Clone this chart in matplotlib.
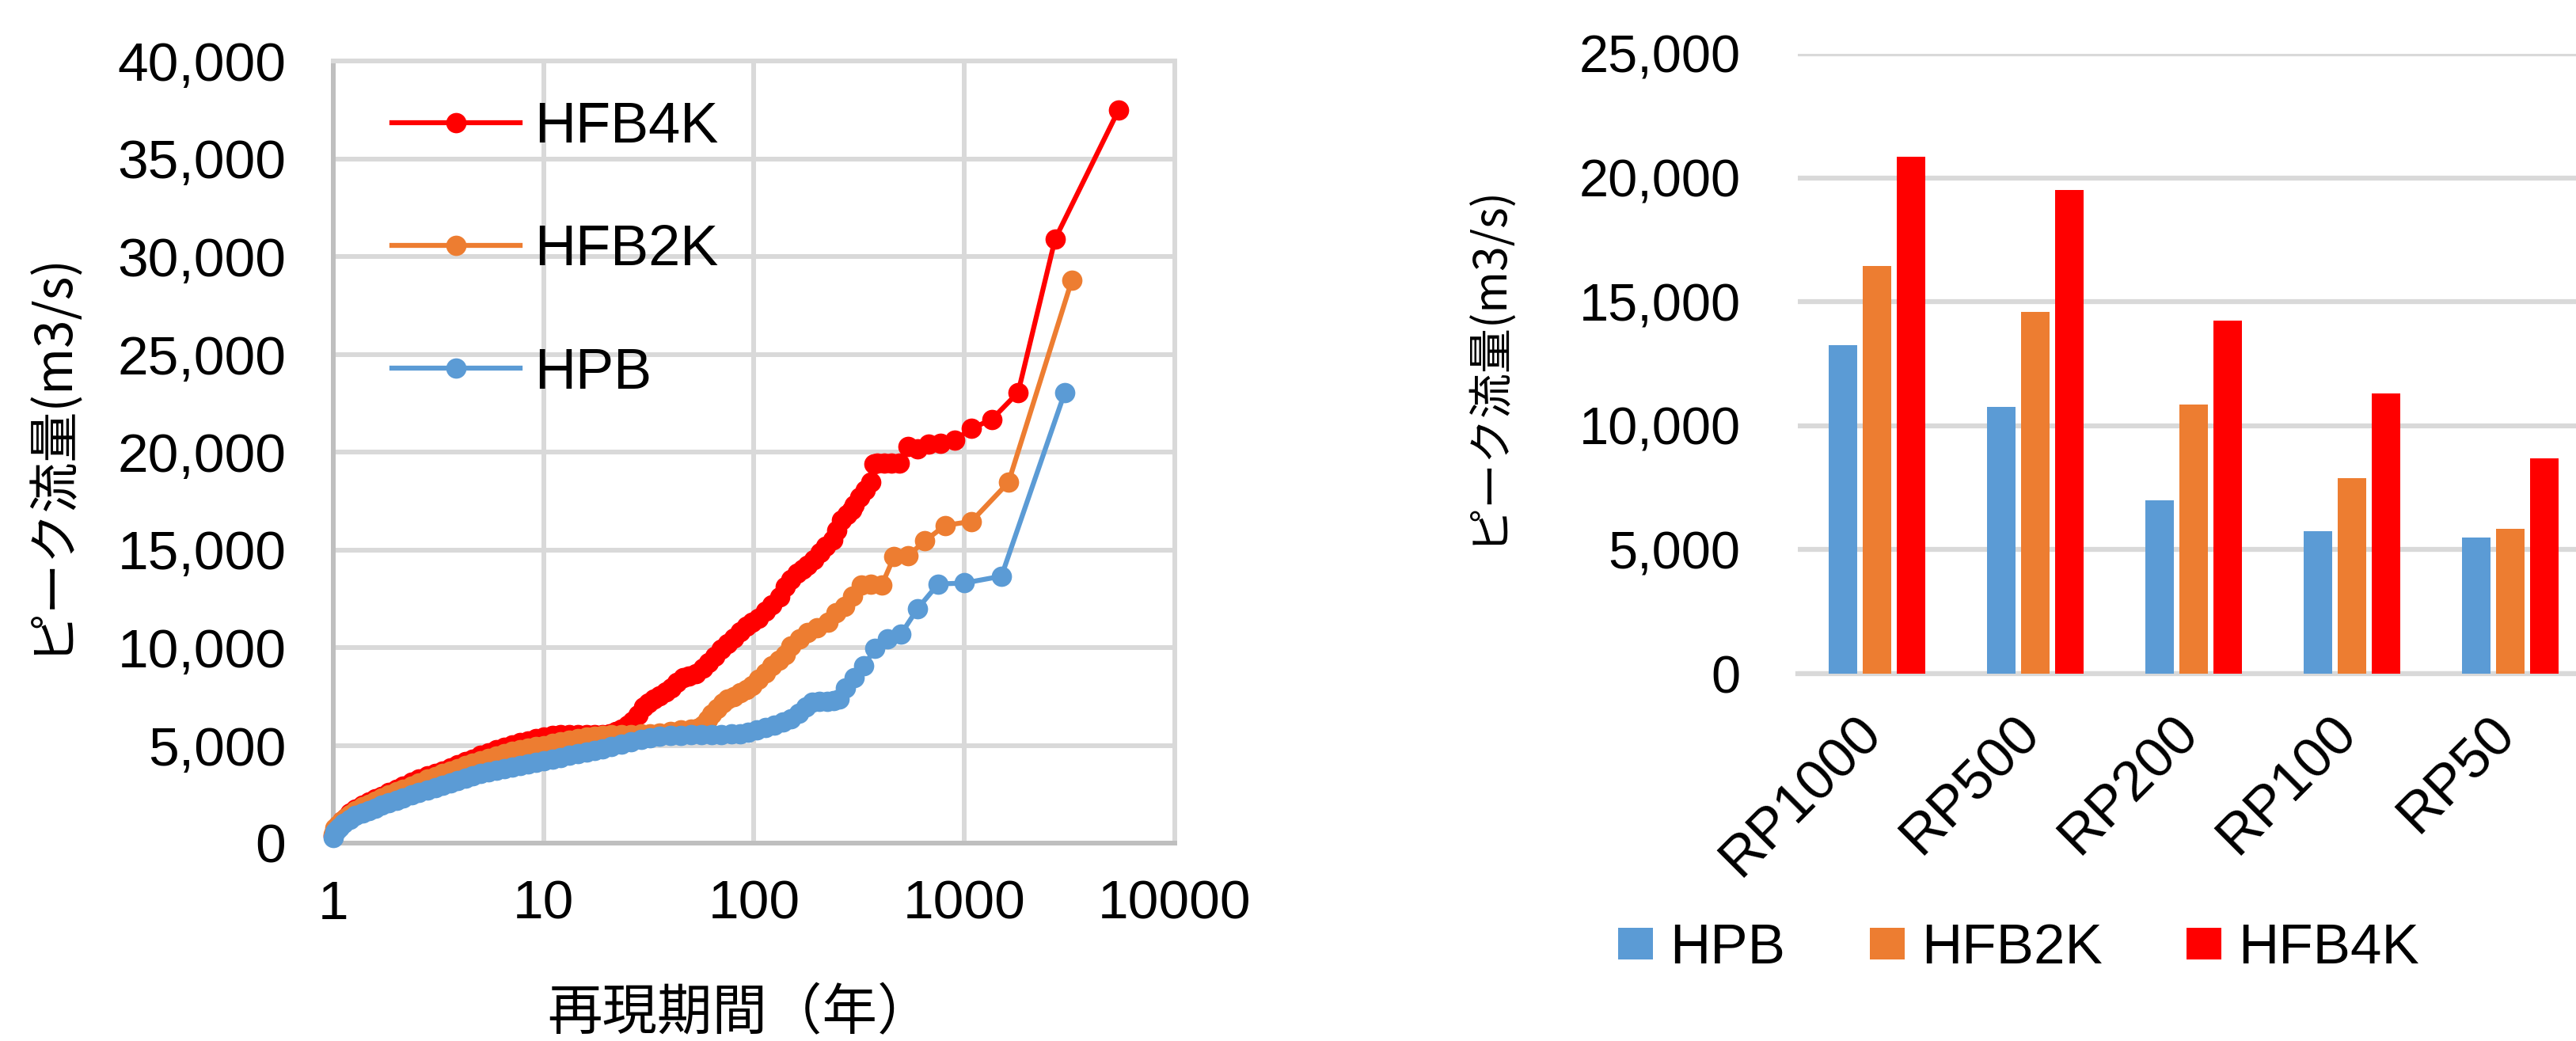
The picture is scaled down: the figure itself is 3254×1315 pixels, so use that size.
import matplotlib
matplotlib.use("Agg")
import matplotlib.pyplot as plt
from matplotlib.ticker import FixedLocator, NullLocator, FuncFormatter
from matplotlib.transforms import ScaledTranslation

plt.rcParams['font.family'] = ['Liberation Sans', 'Noto Sans CJK JP', 'DejaVu Sans']

# --- left chart: return period (years) vs peak discharge (m3/s) ---
hfb4k_T = [1.00, 1.02, 1.05, 1.10, 1.15, 1.20, 1.28, 1.38, 1.48, 1.58, 1.70, 1.84, 2.00, 2.15,
           2.35, 2.55, 2.80, 3.05, 3.30, 3.60, 3.90, 4.25, 4.60, 5.00, 5.45, 5.95, 6.50, 7.10,
           7.75, 8.45, 9.20, 10.0, 11.0, 12.0, 13.2, 14.5, 16.0, 17.5, 19.0, 20.5, 22.0, 23.5,
           25.0, 26.5, 28.0, 29.8, 31.5, 33.5, 35.5, 38.0, 40.5, 43.0, 46.0, 49.0, 53.0, 57.0,
           61.0, 65.0, 70.0, 75.0, 80.0, 86.0, 92.0, 98.0, 105, 113, 122, 132, 141, 150, 160,
           170, 180, 193, 206, 220, 236, 248, 260, 276, 292, 300, 318, 338, 360, 372, 386, 415,
           450, 491, 540, 600, 675, 771, 900, 1080, 1350, 1800, 2700, 5400]
hfb4k_Q = [350, 650, 900, 1150, 1300, 1550, 1750, 1950, 2100, 2250, 2400, 2580, 2760, 2920,
           3100, 3260, 3450, 3560, 3700, 3850, 4000, 4160, 4300, 4480, 4630, 4770, 4890, 5010,
           5130, 5240, 5330, 5410, 5490, 5530, 5540, 5540, 5550, 5550, 5560, 5600, 5700, 5850,
           6050, 6250, 6550, 6950, 7150, 7350, 7520, 7750, 7950, 8200, 8450, 8560, 8650, 8950,
           9250, 9550, 9900, 10200, 10500, 10800, 11100, 11300, 11500, 11850, 12200, 12600,
           13100, 13500, 13800, 14000, 14200, 14500, 14850, 15200, 15500, 16000, 16500, 16800,
           17050, 17300, 17700, 18050, 18450, 19400, 19450, 19420, 19450, 19450, 20270, 20180,
           20400, 20450, 20600, 21200, 21670, 23050, 30900, 37480]

hfb2k_T = [1.00, 1.02, 1.05, 1.10, 1.15, 1.20, 1.28, 1.38, 1.48, 1.58, 1.70, 1.84, 2.00, 2.15,
           2.35, 2.55, 2.80, 3.05, 3.30, 3.60, 3.90, 4.25, 4.60, 5.00, 5.45, 5.95, 6.50, 7.10,
           7.75, 8.45, 9.20, 10.0, 11.0, 12.0, 13.2, 14.5, 16.0, 17.5, 19.0, 21.0, 23.5, 26.0,
           29.0, 32.0, 35.5, 40.0, 45.0, 50.0, 54.0, 57.0, 60.0, 63.0, 67.0, 71.0, 75.0, 80.0,
           86.0, 92.0, 98.0, 105, 113, 122, 131, 141, 150, 165, 179, 200, 225, 245, 270, 295,
           324, 360, 405, 463, 540, 648, 810, 1080, 1620, 3240]
hfb2k_Q = [450, 750, 950, 1150, 1300, 1450, 1650, 1850, 2000, 2140, 2290, 2450, 2620, 2760,
           2930, 3080, 3270, 3420, 3550, 3690, 3820, 3960, 4090, 4220, 4350, 4470, 4580, 4680,
           4770, 4860, 4930, 5000, 5110, 5190, 5280, 5350, 5410, 5460, 5500, 5530, 5550, 5560,
           5580, 5600, 5640, 5720, 5780, 5820, 5870, 6050, 6300, 6580, 6900, 7150, 7350, 7500,
           7700, 7850, 8050, 8400, 8700, 9050, 9350, 9650, 10100, 10450, 10750, 11000, 11300,
           11800, 12100, 12630, 13200, 13250, 13200, 14650, 14700, 15450, 16250, 16450, 18450,
           28780]

hpb_T = [1.00, 1.02, 1.04, 1.07, 1.12, 1.20, 1.28, 1.38, 1.48, 1.58, 1.70, 1.84, 2.00, 2.15,
         2.35, 2.55, 2.80, 3.05, 3.30, 3.60, 3.90, 4.25, 4.60, 5.00, 5.45, 5.95, 6.50, 7.10,
         7.75, 8.45, 9.20, 10.0, 11.0, 12.0, 13.2, 14.5, 16.0, 17.5, 19.0, 21.0, 23.5, 26.0,
         29.0, 32.0, 35.5, 40.0, 45.0, 50.0, 56.0, 63.0, 70.0, 78.0, 86.0, 94.0, 103, 113, 125,
         137, 150, 163, 176, 189, 205, 222, 238, 253, 273, 300, 333, 375, 429, 500, 600, 750,
         1000, 1500, 3000]
hpb_Q = [300, 550, 700, 800, 1000, 1230, 1400, 1550, 1680, 1800, 1930, 2070, 2200, 2320, 2460,
         2580, 2700, 2820, 2940, 3070, 3190, 3310, 3430, 3550, 3650, 3740, 3820, 3900, 3980,
         4060, 4130, 4210, 4300, 4390, 4490, 4580, 4670, 4750, 4830, 4930, 5060, 5180, 5300,
         5390, 5450, 5500, 5520, 5530, 5540, 5550, 5560, 5570, 5600, 5650, 5780, 5920, 6050,
         6190, 6350, 6650, 6950, 7200, 7230, 7240, 7300, 7360, 7950, 8450, 9050, 9950, 10450,
         10700, 12000, 13250, 13300, 13650, 23050]

# --- right chart: peak discharge per return period ---
rp_labels = ["RP1000", "RP500", "RP200", "RP100", "RP50"]
hpb_rp = [13250, 10750, 7000, 5750, 5500]
hfb2k_rp = [16450, 14600, 10850, 7900, 5850]
hfb4k_rp = [20850, 19500, 14250, 11300, 8700]

BLUE = "#5B9BD5"
ORANGE = "#ED7D31"
RED = "#FF0000"
GRID = "#D9D9D9"
AXIS = "#BFBFBF"
JP = ['Noto Sans CJK JP', 'Liberation Sans']

W, H = 3255, 1315
fig = plt.figure(figsize=(W / 100, H / 100), dpi=100)
comma = FuncFormatter(lambda v, p: f"{int(v):,}")

# left chart
ax1 = fig.add_axes([421 / W, 250 / H, 1063 / W, 988 / H])
for T, Q, col, lab in [(hfb4k_T, hfb4k_Q, RED, "HFB4K"),
                       (hfb2k_T, hfb2k_Q, ORANGE, "HFB2K"),
                       (hpb_T, hpb_Q, BLUE, "HPB")]:
    ax1.plot(T, Q, color=col, lw=4.5, marker='o', ms=18.5, mew=0, label=lab,
             clip_on=False, zorder=3)
ax1.set_xscale('log')
ax1.set_xlim(1, 10000)
ax1.set_ylim(0, 40000)
ax1.xaxis.set_major_locator(FixedLocator([1, 10, 100, 1000, 10000]))
ax1.xaxis.set_minor_locator(NullLocator())
ax1.xaxis.set_major_formatter(FuncFormatter(lambda v, p: f"{v:.0f}"))
ax1.yaxis.set_major_locator(FixedLocator(range(0, 40001, 5000)))
ax1.yaxis.set_major_formatter(comma)
ax1.grid(True, color=GRID, lw=4.3)
ax1.set_axisbelow(True)
for s in ['top', 'right']:
    ax1.spines[s].set_color(GRID)
    ax1.spines[s].set_linewidth(4.3)
for s in ['left', 'bottom']:
    ax1.spines[s].set_color(AXIS)
    ax1.spines[s].set_linewidth(4.3)
ax1.tick_params(axis='y', length=0, pad=43, labelsize=50)
ax1.tick_params(axis='x', length=0, pad=33, labelsize=50)
ax1.set_xlabel("再現期間（年）", family=JP, fontsize=50)
ax1.xaxis.set_label_coords(0.483, -0.218)
ax1.xaxis.label.set_va('center')
ax1.set_ylabel("ピーク流量(m3/s)", family=JP, fontsize=46)
ax1.yaxis.set_label_coords(-0.338, 0.5)
ax1.yaxis.label.set_va('center')
ax1.legend(loc='upper left', bbox_to_anchor=(0.0696, 0.948), frameon=False, fontsize=52,
           borderpad=0, borderaxespad=0, handlelength=2.24, handletextpad=0.25,
           labelspacing=1.22, numpoints=1)

# right chart
ax2 = fig.add_axes([2271 / W, 464 / H, 1000 / W, 783 / H])
x = list(range(len(rp_labels)))
bw = 0.18
step = 0.215
ax2.bar([i - step for i in x], hpb_rp, bw, color=BLUE, label="HPB", zorder=3)
ax2.bar(x, hfb2k_rp, bw, color=ORANGE, label="HFB2K", zorder=3)
ax2.bar([i + step for i in x], hfb4k_rp, bw, color=RED, label="HFB4K", zorder=3)
ax2.set_xlim(-0.5, 4.5)
ax2.set_ylim(0, 25000)
ax2.yaxis.set_major_locator(FixedLocator(range(0, 25001, 5000)))
ax2.yaxis.set_major_formatter(comma)
ax2.grid(True, axis='y', color=GRID, lw=4.5)
ax2.set_axisbelow(True)
for s in ['top', 'right', 'left']:
    ax2.spines[s].set_visible(False)
ax2.spines['bottom'].set_color(GRID)
ax2.spines['bottom'].set_linewidth(4.5)
ax2.set_xticks(x)
ax2.set_xticklabels(rp_labels, rotation=45, ha='right', va='top', rotation_mode='anchor')
ax2.tick_params(axis='x', length=0, pad=30, labelsize=51)
ax2.tick_params(axis='y', length=0, pad=52, labelsize=48)
shift = ScaledTranslation(-0.28, 0, fig.dpi_scale_trans)
for lbl in ax2.get_xticklabels():
    lbl.set_transform(lbl.get_transform() + shift)
ax2.set_ylabel("ピーク流量(m3/s)", family=JP, fontsize=41)
ax2.yaxis.set_label_coords(-0.394, 0.5)
ax2.yaxis.label.set_va('center')
fig.legend(*ax2.get_legend_handles_labels(), loc='center', ncol=3,
           bbox_to_anchor=(2550 / W, 1 - 1199 / H), frameon=False, fontsize=51,
           handlelength=0.62, handleheight=0.5, handletextpad=0.3, columnspacing=1.5,
           borderpad=0)

fig.savefig("out.png", dpi=100, facecolor='white')
